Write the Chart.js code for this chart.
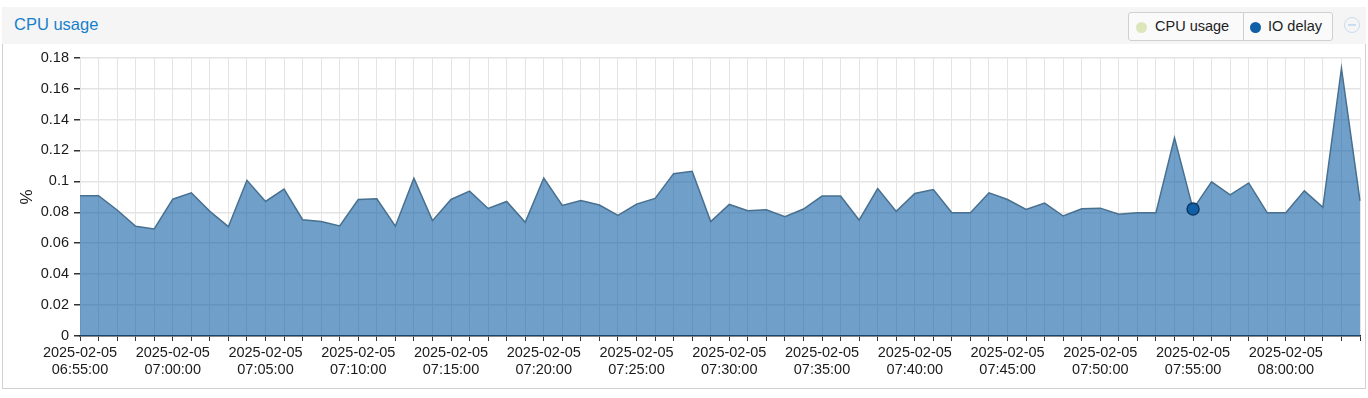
<!DOCTYPE html>
<html>
<head>
<meta charset="utf-8">
<script src="https://cdn.jsdelivr.net/npm/chart.js@4"></script>
<style>
  body { margin: 0; background: #fff; font-family: 'Liberation Sans', Arial, sans-serif; }
  .panel-head { position: absolute; left: 2px; top: 7px; width: 1364px; height: 37px; background: #f5f5f5; }
  .panel-title { position: absolute; left: 12px; top: 8px; font-size: 16.5px; color: #157fcc; }
  .legend { position: absolute; left: 1126px; top: 5px; width: 203px; height: 27px; border: 1px solid #d0d0d0; border-radius: 3px; background: #fafafa; }
  .legend .item { position: absolute; top: 0; height: 27px; line-height: 27px; font-size: 14.5px; color: #222; }
  .legend .dot { position: absolute; top: 9px; width: 11px; height: 11px; border-radius: 50%; }
  .legend .sep { position: absolute; left: 114px; top: 0; width: 1px; height: 27px; background: #d0d0d0; }
  .tool { position: absolute; left: 1342px; top: 10px; width: 14px; height: 14px; border: 1.5px solid #c9ddf0; border-radius: 50%; }
  .tool:after { content: ''; position: absolute; left: 3px; top: 6px; width: 8px; height: 1.5px; background: #c9ddf0; }
  .panel-body { position: absolute; left: 2px; top: 44px; width: 1362px; height: 344px; border: 1px solid #d0d0d0; border-top: none; }
  .chart-box { position: absolute; left: 0; top: 44px; width: 1368px; height: 354px; }
</style>
</head>
<body>
<div class="panel-head">
  <div class="panel-title">CPU usage</div>
  <div class="legend">
    <span class="dot" style="left:7px;background:#dde5bb;"></span>
    <span class="item" style="left:26px;">CPU usage</span>
    <span class="sep"></span>
    <span class="dot" style="left:121px;background:#115fa6;"></span>
    <span class="item" style="left:139px;">IO delay</span>
  </div>
  <div class="tool"></div>
</div>
<div class="panel-body"></div>
<div class="chart-box"><canvas id="chartCpu"></canvas></div>

<script>
// ============================================
// Data
// ============================================

const dayLabel = '2025-02-05'
const startTime = '06:55'
const pointCount = 70
const labelEvery = 5
const highlightIndex = 60

const yTicks = [0, 0.02, 0.04, 0.06, 0.08, 0.1, 0.12, 0.14, 0.16, 0.18]

const ioDelay = [
  0.0907, 0.0907, 0.0815, 0.0710, 0.0692, 0.0885, 0.0926, 0.0806, 0.0707, 0.1007,
  0.0870, 0.0950, 0.0752, 0.0740, 0.0712, 0.0883, 0.0887, 0.0710, 0.1020, 0.0746,
  0.0883, 0.0937, 0.0825, 0.0870, 0.0735, 0.1022, 0.0845, 0.0877, 0.0847, 0.0780,
  0.0853, 0.0890, 0.1050, 0.1065, 0.0740, 0.0851, 0.0810, 0.0817, 0.0772, 0.0821,
  0.0905, 0.0905, 0.0750, 0.0954, 0.0806, 0.0922, 0.0947, 0.0797, 0.0797, 0.0926,
  0.0883, 0.0819, 0.0860, 0.0776, 0.0823, 0.0827, 0.0787, 0.0797, 0.0797, 0.1282,
  0.0821, 0.0997, 0.0913, 0.0990, 0.0797, 0.0797, 0.0939, 0.0832, 0.1732, 0.0874
]

// minute categories hh:mm:00 starting at startTime
const times = []
const [h0, m0] = startTime.split(':').map(Number)
for (let i = 0; i < pointCount; i++) {
  const t = h0 * 60 + m0 + i
  times.push(String(Math.floor(t / 60)).padStart(2, '0') + ':' + String(t % 60).padStart(2, '0') + ':00')
}

const tickFont = { family: "'Liberation Sans', Arial, sans-serif", size: 14.5 }

new Chart(document.getElementById('chartCpu'), {
  type: 'line',
  data: {
    labels: times,
    datasets: [{
      label: 'IO delay',
      data: ioDelay,
      fill: 'origin',
      backgroundColor: 'rgba(17,95,166,0.6)',
      borderColor: '#48708f',
      borderWidth: 1.5,
      tension: 0,
      pointRadius: ioDelay.map((v, i) => i === highlightIndex ? 6 : 0),
      pointBackgroundColor: '#115fa6',
      pointBorderColor: '#0c3a66',
      pointBorderWidth: 1.5
    }]
  },
  options: {
    responsive: true,
    maintainAspectRatio: false,
    animation: false,
    events: [],
    layout: { padding: { top: 12, right: 8, left: 0, bottom: 0 } },
    plugins: { legend: { display: false }, tooltip: { enabled: false } },
    scales: {
      x: {
        afterFit: s => { s.height = 62 },
        grid: { color: '#e4e4e4', lineWidth: 1, tickColor: '#333', tickLength: 5 },
        border: { color: '#222', width: 1.5 },
        ticks: {
          autoSkip: false,
          maxRotation: 0,
          padding: 3,
          color: '#1a1a1a',
          font: tickFont,
          callback: (v, i) => i % labelEvery === 0 ? [dayLabel, times[i]] : ''
        }
      },
      y: {
        min: 0,
        max: 0.18,
        afterFit: s => { s.width = 80 },
        afterBuildTicks: s => { s.ticks = yTicks.map(v => ({ value: v })) },
        grid: { color: '#e4e4e4', lineWidth: 1.5, tickColor: '#333', tickLength: 6 },
        border: { display: false },
        ticks: {
          padding: 5,
          color: '#1a1a1a',
          font: tickFont,
          callback: v => String(parseFloat(v.toFixed(2)))
        },
        title: {
          display: true,
          text: '%',
          color: '#1a1a1a',
          font: { family: "'Liberation Sans', Arial, sans-serif", size: 17 },
          padding: { top: 17, bottom: 0 }
        }
      }
    }
  }
})
</script>
</body>
</html>
